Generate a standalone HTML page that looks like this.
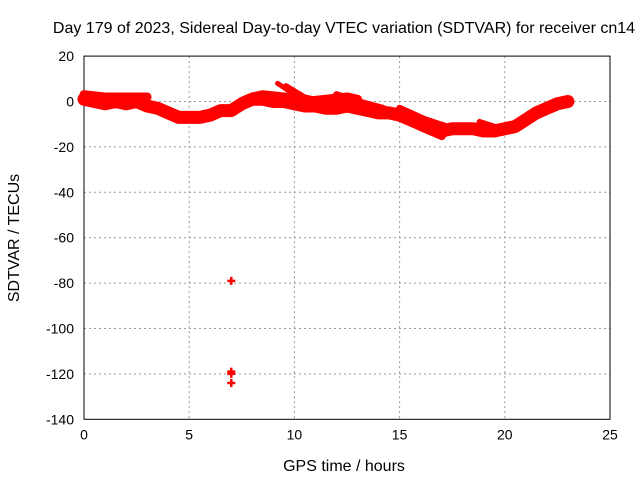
<!DOCTYPE html>
<html><head><meta charset="utf-8"><style>
body{margin:0;background:#fff}
svg text{font-family:"Liberation Sans",sans-serif;font-size:14px;fill:#000}
svg text.big{font-size:16px}
</style></head><body>
<svg id="chart" width="640" height="480" xmlns="http://www.w3.org/2000/svg">
<rect width="640" height="480" fill="#fff"/>
<text class="big" x="344" y="33" text-anchor="middle">Day 179 of 2023, Sidereal Day-to-day VTEC variation (SDTVAR) for receiver cn14</text>
<text class="big" x="344" y="471" text-anchor="middle">GPS time / hours</text>
<text class="big" transform="translate(19,238) rotate(-90)" text-anchor="middle">SDTVAR / TECUs</text>
<g id="grid"></g><g id="axes"></g><g id="marks"></g>
</svg>
<script>
const xTicks=[0,5,10,15,20,25];
const yTicks=[20,0,-20,-40,-60,-80,-100,-120,-140];
const mainT=[0,0.5,1,1.5,2,2.5,3,3.5,4,4.5,5,5.5,6,6.5,7,7.5,8,8.5,9,9.5,10,10.5,11,11.5,12,12.5,13,13.5,14,14.5,15,15.5,16,16.5,17,17.5,18,18.5,19,19.5,20,20.5,21,21.5,22,22.5,23];
const mainV=[1,0,-1,0,-1,0,-2,-3,-5,-7,-7,-7,-6,-4,-4,-1,1,1,0,0,-1,-2,-2,-3,-3,-2,-3,-4,-5,-5,-6,-8,-10,-12,-13,-12,-12,-12,-13,-13,-12,-11,-8,-5,-3,-1,0];
const upperT=[0,1,2,3];
const upperV=[3,2,2,2];
const upper2T=[7.5,8,8.5,9.5,10.5,11.5,12.5,13];
const upper2V=[0,2,3,2,0,1,2,1];
const trackAT=[9.2,10,11];
const trackAV=[8,3,-1];
const trackBT=[9.6,10.5,11.5];
const trackBV=[7,2,0];
const trackCT=[12,13,14.2];
const trackCV=[3,0,-3];
const trackDT=[14,15,16,17];
const trackDV=[-3,-6,-11,-15];
const trackET=[15,16.2,17.5];
const trackEV=[-3,-8,-12];
const trackFT=[18.8,19.8,20.5];
const trackFV=[-9,-12,-11];
const outT=[7,7,7,7];
const outV=[-79,-119,-120,-124];
const X=t=>84+t*21.04, Y=v=>101.5-v*2.27;
const NS="http://www.w3.org/2000/svg";
function mk(tag,p,attrs){const e=document.createElementNS(NS,tag);for(const k in attrs)e.setAttribute(k,attrs[k]);p.appendChild(e);return e;}
const grid=document.getElementById('grid'),axes=document.getElementById('axes'),marks=document.getElementById('marks');
xTicks.forEach(t=>{
 if(t>0&&t<25){const l=mk('line',grid,{x1:X(t),x2:X(t),y1:Y(20),y2:Y(-140),stroke:'#999','stroke-dasharray':'2,3'});
 
 }
 const tx=mk('text',axes,{x:X(t),y:Y(-140)+20,'text-anchor':'middle'});tx.textContent=t;
 
 
});
yTicks.forEach(v=>{
 if(v<20&&v>-140){const l=mk('line',grid,{x1:X(0),x2:X(25),y1:Y(v),y2:Y(v),stroke:'#999','stroke-dasharray':'2,3'});
 
 }
 const tx=mk('text',axes,{x:X(0)-10,y:Y(v)+5,'text-anchor':'end'});tx.textContent=v;
 
 
});
const fr=mk('rect',axes,{x:X(0),y:Y(20),width:X(25)-X(0),height:Y(-140)-Y(20),fill:'none',stroke:'#000'});


function track(T,V,w,name){
 const pts=T.map((t,i)=>X(t)+','+Y(V[i])).join(' ');
 const p=mk('polyline',marks,{points:pts,fill:'none',stroke:'#f00','stroke-width':w,'stroke-linejoin':'round','stroke-linecap':'round'});
 
 
}
track(mainT,mainV,13,'sdtvar-main-band');
track(upperT,upperV,9,'sdtvar-upper-band');
track(upper2T,upper2V,9,'sdtvar-upper-band-2');
track(trackAT,trackAV,5,'sdtvar-track-a');
track(trackBT,trackBV,5,'sdtvar-track-b');
track(trackCT,trackCV,7,'sdtvar-track-c');
track(trackDT,trackDV,9,'sdtvar-track-d');
track(trackET,trackEV,7,'sdtvar-track-e');
track(trackFT,trackFV,6,'sdtvar-track-f');
outT.forEach((t,i)=>{
 const g=mk('path',marks,{d:`M${X(t)-4},${Y(outV[i])}h8M${X(t)},${Y(outV[i])-4}v8`,stroke:'#f00','stroke-width':2.5});
 
 
});
</script>
</body></html>
